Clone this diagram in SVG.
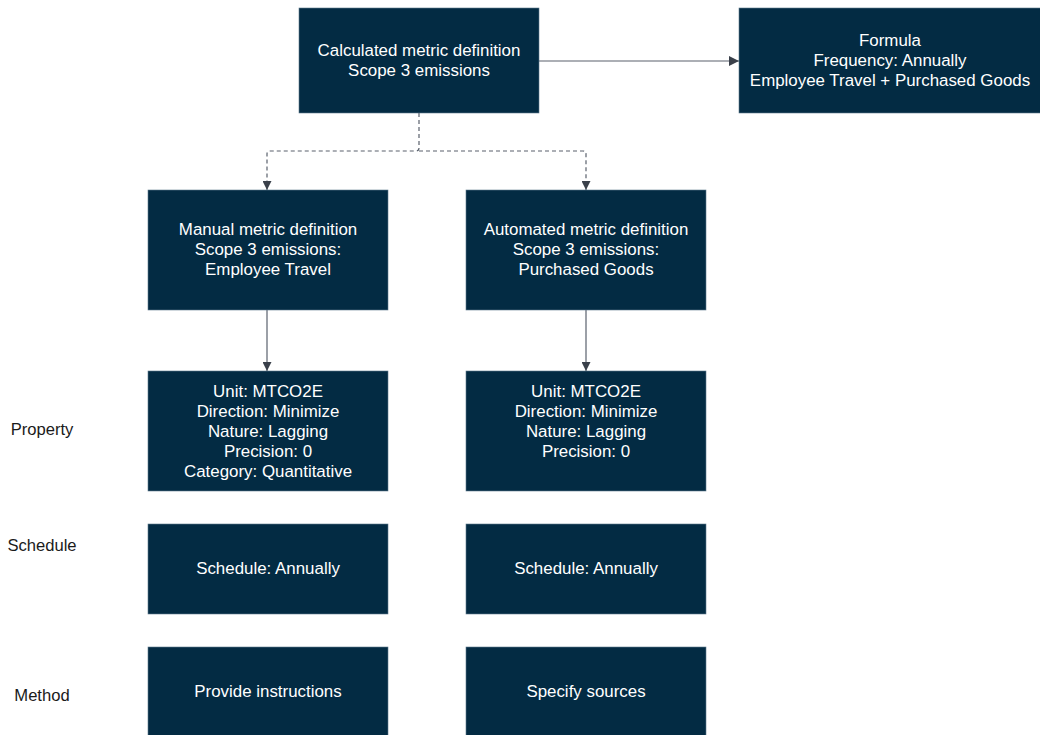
<svg xmlns="http://www.w3.org/2000/svg" width="1040" height="735" viewBox="0 0 1040 735">
<defs>
<style>
.box{fill:#032b43;stroke:#5e7a8c;stroke-width:0.6}
.t{font-family:"Liberation Sans",Arial,sans-serif;font-size:16.9px;fill:#ffffff;text-anchor:middle}
.lbl{font-family:"Liberation Sans",Arial,sans-serif;font-size:16.6px;fill:#1a1a1a;text-anchor:middle}
.c{fill:none;stroke:#5a616d;stroke-width:1.2}
.d{stroke-dasharray:4 3}
</style>
<marker id="ah" viewBox="0 0 10 10" refX="10" refY="5" markerWidth="10" markerHeight="9" markerUnits="userSpaceOnUse" orient="auto">
<path d="M0,0 L10,5 L0,10 Z" fill="#3a404a"/>
</marker>
<marker id="ahl" viewBox="0 0 10 10" refX="10" refY="5" markerWidth="10" markerHeight="10" markerUnits="userSpaceOnUse" orient="auto">
<path d="M0,0 L10,5 L0,10 Z" fill="#3a404a"/>
</marker>
</defs>
<rect width="1040" height="735" fill="#ffffff"/>
<g id="connectors">
<path class="c" d="M539,61 H739" marker-end="url(#ahl)"/>
<path class="c d" d="M419,113 V148 Q419,151 416,151 H270 Q267,151 267,154 V190" marker-end="url(#ah)"/>
<path class="c d" d="M419,151 H583 Q586,151 586,154 V190" marker-end="url(#ah)"/>
<path class="c" d="M267,310 V371" marker-end="url(#ah)"/>
<path class="c" d="M586,310 V371" marker-end="url(#ah)"/>
</g>
<g id="calculated">
<rect class="box" x="299" y="8" width="240" height="105"/>
<text class="t" x="419" y="56">Calculated metric definition</text>
<text class="t" x="419" y="76">Scope 3 emissions</text>
</g>
<g id="formula">
<rect class="box" x="739" y="8" width="302" height="105"/>
<text class="t" x="890" y="46">Formula</text>
<text class="t" x="890" y="66">Frequency: Annually</text>
<text class="t" x="890" y="86">Employee Travel + Purchased Goods</text>
</g>
<g id="manual">
<rect class="box" x="148" y="190" width="240" height="120"/>
<text class="t" x="268" y="235">Manual metric definition</text>
<text class="t" x="268" y="255">Scope 3 emissions:</text>
<text class="t" x="268" y="275">Employee Travel</text>
</g>
<g id="automated">
<rect class="box" x="466" y="190" width="240" height="120"/>
<text class="t" x="586" y="235">Automated metric definition</text>
<text class="t" x="586" y="255">Scope 3 emissions:</text>
<text class="t" x="586" y="275">Purchased Goods</text>
</g>
<g id="manual-property">
<rect class="box" x="148" y="371" width="240" height="120"/>
<text class="t" x="268" y="397">Unit: MTCO2E</text>
<text class="t" x="268" y="417">Direction: Minimize</text>
<text class="t" x="268" y="437">Nature: Lagging</text>
<text class="t" x="268" y="457">Precision: 0</text>
<text class="t" x="268" y="477">Category: Quantitative</text>
</g>
<g id="automated-property">
<rect class="box" x="466" y="371" width="240" height="120"/>
<text class="t" x="586" y="397">Unit: MTCO2E</text>
<text class="t" x="586" y="417">Direction: Minimize</text>
<text class="t" x="586" y="437">Nature: Lagging</text>
<text class="t" x="586" y="457">Precision: 0</text>
</g>
<g id="manual-schedule">
<rect class="box" x="148" y="524" width="240" height="90"/>
<text class="t" x="268" y="574">Schedule: Annually</text>
</g>
<g id="automated-schedule">
<rect class="box" x="466" y="524" width="240" height="90"/>
<text class="t" x="586" y="574">Schedule: Annually</text>
</g>
<g id="manual-method">
<rect class="box" x="148" y="647" width="240" height="92"/>
<text class="t" x="268" y="697">Provide instructions</text>
</g>
<g id="automated-method">
<rect class="box" x="466" y="647" width="240" height="92"/>
<text class="t" x="586" y="697">Specify sources</text>
</g>
<g id="row-labels">
<text class="lbl" x="42" y="435">Property</text>
<text class="lbl" x="42" y="551">Schedule</text>
<text class="lbl" x="42" y="701">Method</text>
</g>
</svg>
